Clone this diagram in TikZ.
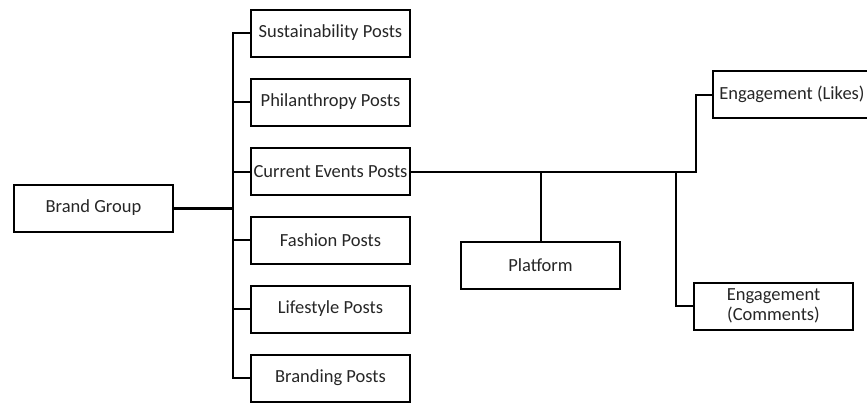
\documentclass[tikz,border=0pt]{standalone}
\usepackage{fontspec}
\setmainfont{Carlito}
\begin{document}
\begin{tikzpicture}[x=1pt,y=-1pt,
  box/.style={draw=black, line width=2pt, rectangle, minimum width=159pt, minimum height=47pt, inner sep=0pt, align=center, font=\fontsize{18.5}{20}\selectfont, text=black!85},
  link/.style={draw=black, line width=2pt},
  thicklink/.style={draw=black, line width=3pt}]
\useasboundingbox (0,0) rectangle (867,405);
\node[box] (bg) at (93.5,208) {Brand Group};
\node[box] (sus) at (330.5,33) {Sustainability Posts};
\node[box] (phi) at (330.5,102) {Philanthropy Posts};
\node[box] (ce) at (330.5,171.5) {Current Events Posts};
\node[box] (fas) at (330.5,240) {Fashion Posts};
\node[box] (lif) at (330.5,309) {Lifestyle Posts};
\node[box] (bra) at (330.5,378) {Branding Posts};
\node[box] (pl) at (540.5,265) {Platform};
\node[box] (lk) at (792,94.5) {Engagement (Likes)};
\node[box, font=\fontsize{18.5}{20}\selectfont] (cm) at (773.5,306) {Engagement\\(Comments)};
\coordinate (j) at (233,208);
\coordinate (pj) at (540.5,171.5);
\coordinate (cj) at (676,171.5);
\coordinate (lj) at (696,171.5);
\draw[thicklink] (bg.east) -- (j);
\foreach \n in {sus,phi,ce,fas,lif,bra} {\draw[link] (j) |- (\n.west);}
\draw[link] (ce.east) -- (lj) |- (lk.west);
\draw[link] (pj) -- (pl.north);
\draw[link] (cj) |- (cm.west);
\end{tikzpicture}
\end{document}
